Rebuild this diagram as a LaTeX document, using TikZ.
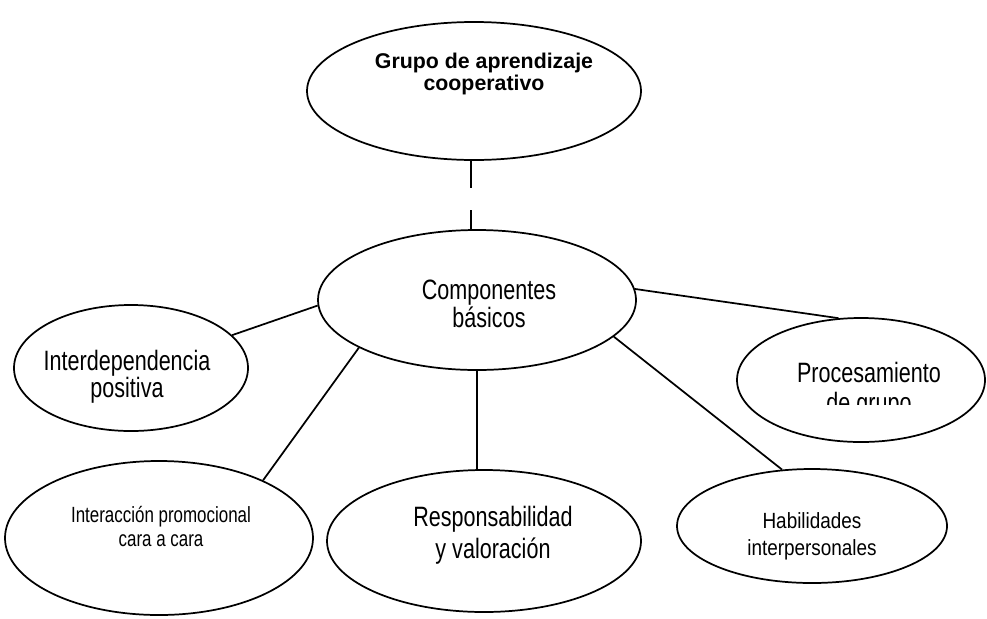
\documentclass[tikz,border=0pt]{standalone}
\usepackage{fontspec}
\setmainfont{Liberation Sans}
\newfontfamily\narrowfont{Liberation Sans}[FakeStretch=0.77]
\newfontfamily\habfont{Liberation Sans}[FakeStretch=0.86]
\usetikzlibrary{shapes.geometric}

\begin{document}
\begin{tikzpicture}[x=0.75pt, y=-0.75pt, line width=1.3pt,
        bubble/.style={draw, ellipse, inner sep=0pt},
        txt/.style={align=center, inner sep=0pt},
        big/.style={font=\narrowfont\fontsize{21}{19}\selectfont}]
        \useasboundingbox (0,0) rectangle (987,618);
        % ellipses
        \node [bubble, minimum width=250.5pt, minimum height=103.5pt] (grupo) at (474,91) {};
        \node [bubble, minimum width=238.5pt, minimum height=105pt] (componentes) at (477,300) {};
        \node [bubble, minimum width=175.5pt, minimum height=94.5pt] (interdep) at (131,368) {};
        \node [bubble, minimum width=186pt, minimum height=93pt] (proc) at (861,380) {};
        \node [bubble, minimum width=231pt, minimum height=115.5pt] (interac) at (159,538) {};
        \node [bubble, minimum width=235.5pt, minimum height=106.5pt] (resp) at (484,541) {};
        \node [bubble, minimum width=202.5pt, minimum height=85.5pt] (hab) at (812,526) {};
        % texts
        \node [txt, font=\bfseries\fontsize{16}{16}\selectfont] (grupo-txt) at (484,74) {Grupo de aprendizaje\\cooperativo};
        \node [txt, big] (componentes-txt) at (489,304) {Componentes\\básicos};
        \node [txt, font=\narrowfont\fontsize{21}{17.5}\selectfont] (interdep-txt) at (127,377) {Interdependencia\\positiva};
        \begin{scope}
            \clip (737,300) rectangle (987,404);
            \node [txt, font=\narrowfont\fontsize{21}{22.5}\selectfont] (proc-txt) at (869,390) {Procesamiento\\de grupo};
        \end{scope}
        \node [txt, font=\narrowfont\fontsize{16.5}{18}\selectfont] (interac-txt) at (161,526) {Interacción promocional\\cara a cara};
        \node [txt, font=\narrowfont\fontsize{21}{24}\selectfont] (resp-txt) at (493,535) {Responsabilidad\\y valoración};
        \node [txt, font=\habfont\fontsize{16.5}{20}\selectfont] (hab-txt) at (812,536) {Habilidades\\interpersonales};
        % connectors
        \draw [dash pattern=on 20pt off 17pt] ([xshift=-2.25pt]grupo.south) -- ([xshift=-2.25pt]grupo.south |- componentes.north);
        \draw (componentes.182) -- (interdep.18);
        \draw (componentes.202) -- (interac.29);
        \draw (componentes.south) -- (componentes.south |- resp.north);
        \draw (componentes.345) -- (hab.118);
        \draw (componentes.4) -- (proc.110);
\end{tikzpicture}
\end{document}
